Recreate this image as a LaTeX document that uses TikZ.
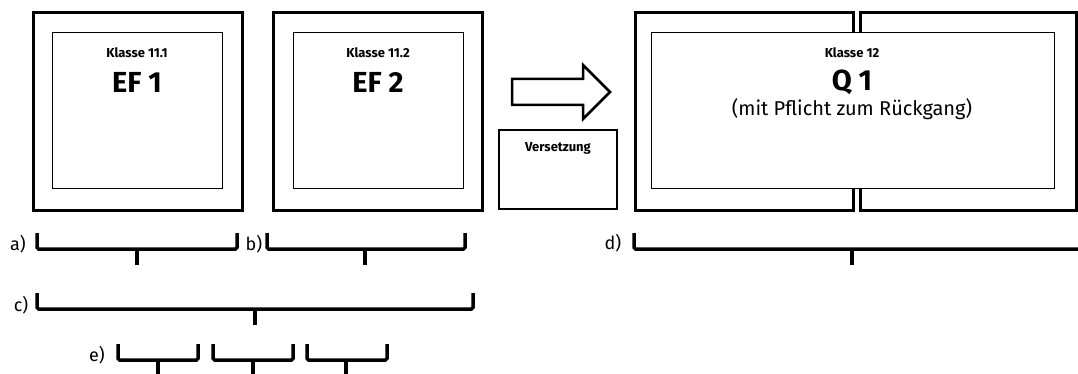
\documentclass[tikz,border=0pt]{standalone}
\usepackage{fontspec}
\setmainfont{Fira Sans}
\begin{document}
\begin{tikzpicture}[x=1pt,y=-1pt,
 outer/.style={draw, line width=3pt, fill=white, inner sep=0pt},
 innerbox/.style={draw, line width=1pt, fill=white, inner sep=0pt, minimum width=170, minimum height=156},
 brace/.style={line width=3.5pt, rounded corners=1.5pt},
 tick/.style={line width=3.5pt},
 lbl/.style={font=\fontsize{18}{20}\selectfont, inner sep=0pt},
 klasse/.style={font=\bfseries\fontsize{13}{15}\selectfont, inner sep=0pt},
 big/.style={font=\bfseries\fontsize{29}{32}\selectfont, inner sep=0pt},
 sub/.style={font=\fontsize{20}{23}\selectfont, inner sep=0pt}]
\useasboundingbox (0,0) rectangle (1078,374);

% EF 1
\node[outer, minimum width=209, minimum height=197] (o1) at (137.5,111.5) {};
\node[innerbox] (i1) at (137,111) {};
\node[klasse] (k1) at (137,53) {Klasse 11.1};
\node[big] (ef1) at (137,82) {EF 1};

% EF 2
\node[outer, minimum width=209, minimum height=197] (o2) at (377.5,111.5) {};
\node[innerbox] (i2) at (378,111) {};
\node[klasse] (k2) at (378,53) {Klasse 11.2};
\node[big] (ef2) at (378,82) {EF 2};

% arrow
\draw[line width=2.5pt, line join=miter, fill=white] (512,79) -- (583,79) -- (583,65) -- (610,92) -- (583,119) -- (583,105) -- (512,105) -- cycle;

% Versetzung
\node[draw, line width=1.2pt, minimum width=118, minimum height=79, inner sep=0pt] (vs) at (558,169.5) {};
\node[klasse] (vst) at (558,148) {Versetzung};

% Q 1
\node[outer, minimum width=218, minimum height=197] (q1l) at (744,111.5) {};
\node[outer, minimum width=216, minimum height=197] (q1r) at (968,111.5) {};
\node[innerbox, minimum width=403] (qi) at (852.5,111) {};
\node[klasse] (k3) at (852,53) {Klasse 12};
\node[big] (q1) at (852,82) {Q 1};
\node[sub] (q1s) at (852,109) {(mit Pflicht zum Rückgang)};

% labels
\node[lbl] (la) at (18,244) {a)};
\node[lbl] (lb) at (254,244) {b)};
\node[lbl] (lc) at (21,305) {c)};
\node[lbl] (ld) at (613,243) {d)};
\node[lbl] (le) at (97,355) {e)};

% braces
\draw[brace] (37,233) -- (37,249) -- (237,249) -- (237,233);
\draw[tick] (137,249) -- (137,265);
\draw[brace] (267,233) -- (267,249) -- (465,249) -- (465,233);
\draw[tick] (365,249) -- (365,265);
\draw[brace] (37,293) -- (37,309) -- (473,309) -- (473,293);
\draw[tick] (255,309) -- (255,325);
\draw[brace] (634,233) -- (634,249) -- (1078,249);
\draw[tick] (852,249) -- (852,265);
\draw[brace] (118,344) -- (118,360) -- (198,360) -- (198,344);
\draw[tick] (158,360) -- (158,374);
\draw[brace] (213,344) -- (213,360) -- (293,360) -- (293,344);
\draw[tick] (253,360) -- (253,374);
\draw[brace] (307,344) -- (307,360) -- (387,360) -- (387,344);
\draw[tick] (346,360) -- (346,374);
\end{tikzpicture}
\end{document}
